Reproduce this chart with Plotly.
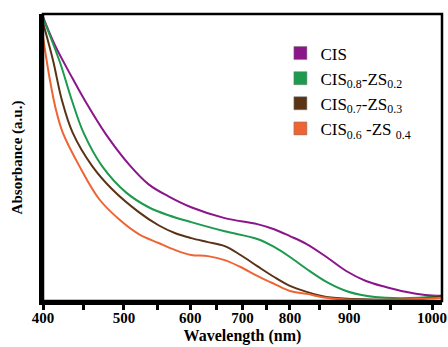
import numpy as np
import plotly.graph_objects as go

# ---- data (wavelength in nm, absorbance in a.u.) ----
cis_wl = [400, 414.6, 436.6, 451.2, 478.0, 507.5, 537.3, 567.2, 601.9, 666.0, 731.2, 766.7, 800, 828.3, 861.7, 895.0, 920.2, 944.0, 967.9, 991.7, 1011.9]
cis_abs = [0.990, 0.892, 0.774, 0.700, 0.578, 0.474, 0.404, 0.362, 0.324, 0.286, 0.265, 0.247, 0.223, 0.195, 0.150, 0.101, 0.066, 0.045, 0.028, 0.017, 0.014]

zs02_wl = [400, 420.7, 435.4, 450.0, 473.2, 503.0, 537.3, 567.2, 601.9, 666.0, 731.2, 766.7, 800, 828.3, 861.7, 895.0, 920.2, 944.0, 983.3, 1011.9]
zs02_abs = [0.986, 0.833, 0.700, 0.585, 0.467, 0.376, 0.324, 0.296, 0.272, 0.240, 0.213, 0.185, 0.150, 0.108, 0.063, 0.031, 0.014, 0.007, 0.007, 0.014]

zs03_wl = [400, 412.2, 423.2, 436.6, 461.0, 485.4, 522.4, 552.2, 577.6, 601.9, 634.0, 666.0, 696.2, 731.2, 766.7, 800, 828.3, 861.7, 904.8, 983.3, 1011.9]
zs03_abs = [0.969, 0.840, 0.700, 0.585, 0.467, 0.387, 0.307, 0.261, 0.233, 0.216, 0.202, 0.188, 0.157, 0.118, 0.080, 0.049, 0.028, 0.010, 0.003, 0.003, 0.014]

zs04_wl = [400, 408.5, 415.9, 424.4, 445.1, 469.5, 493.9, 522.4, 552.2, 577.6, 601.9, 634.0, 666.0, 696.2, 731.2, 766.7, 800, 828.3, 861.7, 904.8, 983.3, 1011.9]
zs04_abs = [0.920, 0.770, 0.666, 0.585, 0.467, 0.352, 0.282, 0.230, 0.199, 0.174, 0.157, 0.153, 0.139, 0.115, 0.084, 0.056, 0.031, 0.021, 0.007, 0.000, 0.003, 0.007]

series_names = ["CIS",
                "CIS<sub>0.8</sub>-ZS<sub>0.2</sub>",
                "CIS<sub>0.7</sub>-ZS<sub>0.3</sub>",
                "CIS<sub>0.6</sub> -ZS <sub>0.4</sub>"]
series_colors = ["#8a168a", "#1d9a4e", "#5a3317", "#ee6533"]

tick_wl = [400, 500, 600, 700, 800, 900, 1000]
tick_text = ["400", "500", "600", "700", "800", "900", "1000"]
minor_wl = [450, 550, 650, 750, 850, 950]

# ---- the figure's (non-uniform) wavelength scale ----
scale_breaks = [0.0, 0.2081, 0.3782, 0.5127, 0.6345, 0.7868, 1.0]


def scale(wl):
    wl = np.asarray(wl, dtype=float)
    out = np.interp(wl, tick_wl, scale_breaks)
    hi = wl > tick_wl[-1]
    slope = (scale_breaks[-1] - scale_breaks[-2]) / (tick_wl[-1] - tick_wl[-2])
    out[hi] = scale_breaks[-1] + (wl[hi] - tick_wl[-1]) * slope
    return out


fig = go.Figure()
all_wl = [cis_wl, zs02_wl, zs03_wl, zs04_wl]
all_abs = [cis_abs, zs02_abs, zs03_abs, zs04_abs]
for wl, ab, name, col in zip(all_wl, all_abs, series_names, series_colors):
    fig.add_trace(go.Scatter(x=scale(wl), y=ab, mode="lines",
                             line=dict(color=col, width=2, shape="spline", smoothing=1.0),
                             showlegend=False, hoverinfo="skip"))
for name, col in zip(series_names, series_colors):
    fig.add_trace(go.Scatter(x=[None], y=[None], mode="markers", name=name,
                             marker=dict(symbol="square", size=13, color=col,
                                         line=dict(color="rgba(120,120,120,0.5)", width=1))))

serif = "Liberation Serif"
fig.update_layout(
    width=448, height=347,
    margin=dict(l=43, r=1, t=14, b=46),
    paper_bgcolor="white", plot_bgcolor="white",
    showlegend=True,
    legend=dict(x=0.595, y=0.925, xanchor="left", yanchor="top",
                font=dict(family=serif, size=17, color="black"),
                bgcolor="rgba(0,0,0,0)", itemwidth=30, tracegroupgap=0),
    xaxis=dict(range=[0, 404 / 394], showgrid=False, zeroline=False,
               showline=True, linecolor="black", linewidth=4,
               ticks="outside", ticklen=5, tickwidth=3, tickcolor="black",
               tickvals=list(scale(tick_wl)), ticktext=tick_text,
               ticklabeloverflow="allow", ticklabelstandoff=-5,
               minor=dict(tickvals=list(scale(minor_wl)), ticks="outside", ticklen=5, tickwidth=3, tickcolor="black"),
               tickfont=dict(family=serif, size=15, color="black", weight="bold"),
               title=dict(text="<b>Wavelength (nm)</b>", font=dict(family=serif, size=16, color="black"), standoff=6)),
    yaxis=dict(range=[-0.004, 1.0], showgrid=False, zeroline=False,
               showline=True, linecolor="black", linewidth=4,
               showticklabels=False, ticks="",
               title=dict(text="<b>Absorbance (a.u.)</b>", font=dict(family=serif, size=15, color="black"), standoff=14)),
    shapes=[dict(type="rect", xref="paper", yref="paper", x0=0, x1=1, y0=0, y1=1,
                 line=dict(color="black", width=2.5), layer="above")],
)

fig.write_html("out.html")
